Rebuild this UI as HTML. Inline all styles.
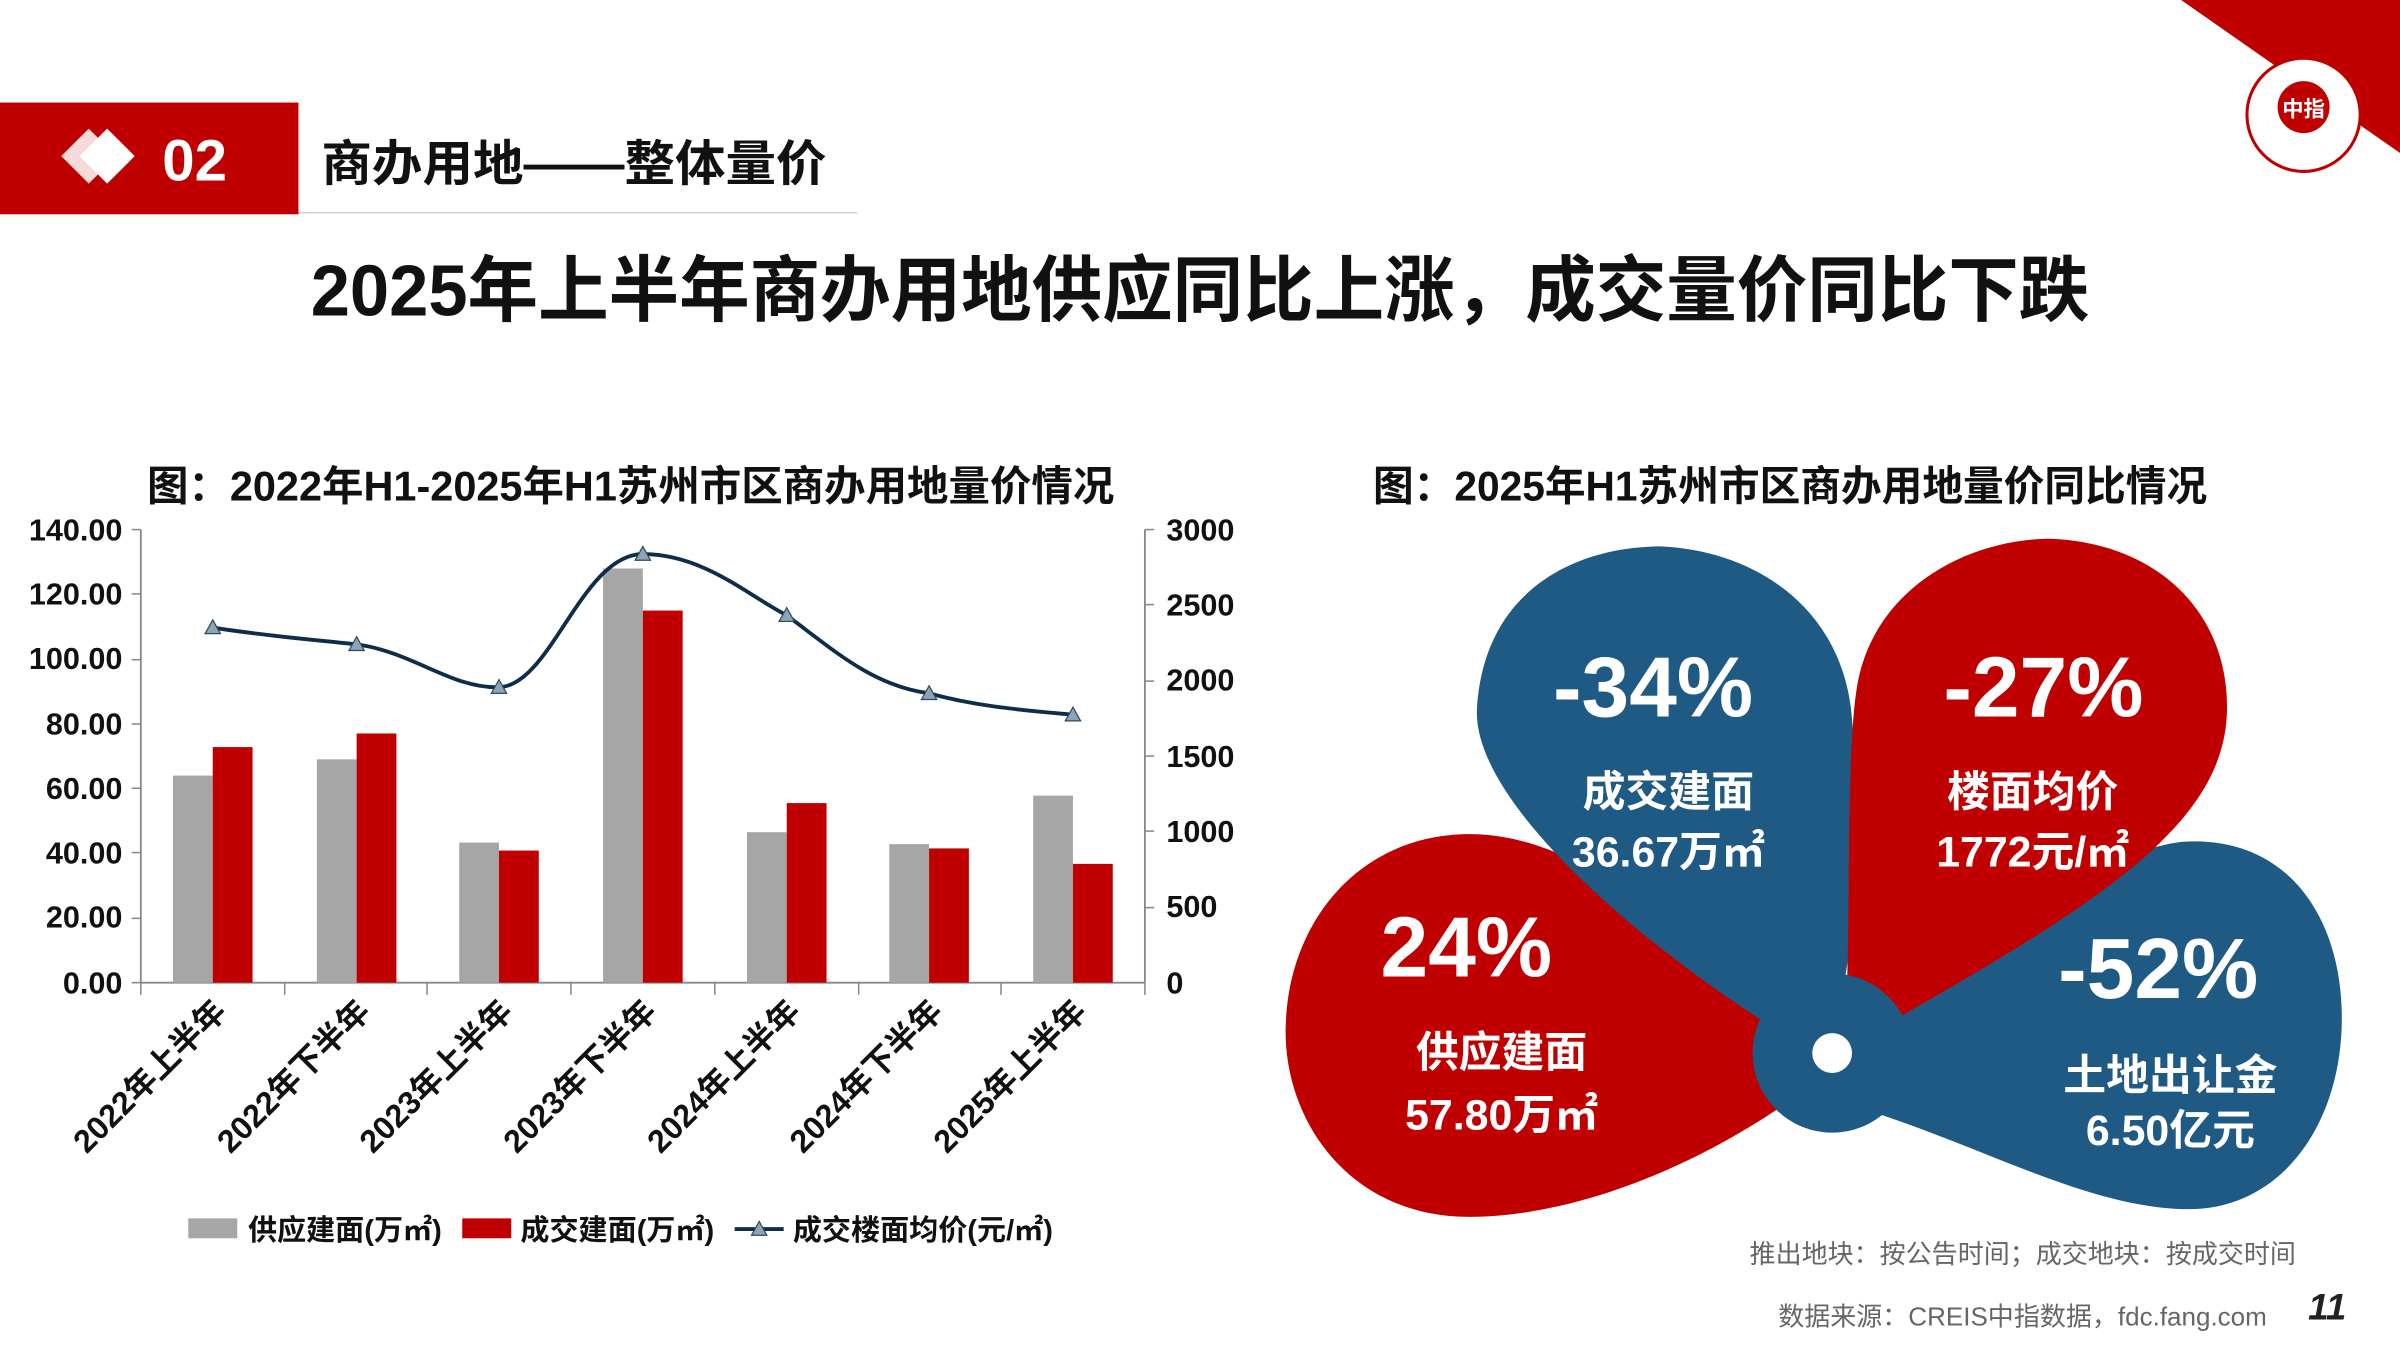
<!DOCTYPE html>
<html><head><meta charset="utf-8"><style>
html,body{margin:0;padding:0;background:#fff;}
svg{display:block;}
text{font-family:"Liberation Sans","Noto Sans CJK SC",sans-serif;}
</style></head><body>
<svg width="2400" height="1350" viewBox="0 0 1568 882" xmlns="http://www.w3.org/2000/svg">
<rect width="1568" height="882" fill="#fff"/>
<rect x="0" y="67" width="195" height="73" fill="#c00000"/>
<line x1="195" y1="139" x2="560" y2="139" stroke="#d0d0d0" stroke-width="1"/>
<polygon points="70,84 88,102 70,120 52,102" fill="#fff"/>
<polygon points="58,84 76,102 58,120 40,102" fill="#fff" opacity="0.85"/>
<text x="106" y="118" font-size="38" font-weight="bold" fill="#fff">02</text>
<text x="210" y="118" font-size="32" font-weight="bold" fill="#111" textLength="330" lengthAdjust="spacingAndGlyphs">商办用地——整体量价</text>
<polygon points="1425,0 1568,0 1568,100" fill="#c00000"/>
<circle cx="1505" cy="75" r="37" fill="#fff" stroke="#c00000" stroke-width="2"/>
<circle cx="1505" cy="70" r="17" fill="#c00000"/>
<text x="1505" y="76" font-size="14" font-weight="bold" fill="#fff" text-anchor="middle">中指</text>
<text x="203" y="206" font-size="47" font-weight="bold" fill="#111" textLength="1162" lengthAdjust="spacingAndGlyphs">2025年上半年商办用地供应同比上涨，成交量价同比下跌</text>

<text x="96" y="327" font-size="27" font-weight="bold" fill="#111" textLength="632" lengthAdjust="spacingAndGlyphs">图：2022年H1-2025年H1苏州市区商办用地量价情况</text>
<g stroke="#888" stroke-width="1.2">
<line x1="92" y1="346" x2="92" y2="642"/>
<line x1="748" y1="346" x2="748" y2="642"/>
<line x1="92" y1="642" x2="748" y2="642"/>
</g>
<g font-size="20" font-weight="bold" fill="#111" text-anchor="end">
<text x="80" y="353">140.00</text><text x="80" y="395">120.00</text><text x="80" y="437">100.00</text>
<text x="80" y="480">80.00</text><text x="80" y="522">60.00</text><text x="80" y="564">40.00</text>
<text x="80" y="606">20.00</text><text x="80" y="649">0.00</text>
</g>
<g font-size="20" font-weight="bold" fill="#111">
<text x="762" y="353">3000</text><text x="762" y="402">2500</text><text x="762" y="451">2000</text>
<text x="762" y="501">1500</text><text x="762" y="550">1000</text><text x="762" y="599">500</text><text x="762" y="649">0</text>
</g>
<g stroke="#888" stroke-width="1">
<line x1="86" y1="346" x2="92" y2="346"/><line x1="86" y1="388" x2="92" y2="388"/><line x1="86" y1="431" x2="92" y2="431"/><line x1="86" y1="473" x2="92" y2="473"/><line x1="86" y1="515" x2="92" y2="515"/><line x1="86" y1="557" x2="92" y2="557"/><line x1="86" y1="600" x2="92" y2="600"/><line x1="86" y1="642" x2="92" y2="642"/>
<line x1="748" y1="346" x2="754" y2="346"/><line x1="748" y1="395" x2="754" y2="395"/><line x1="748" y1="445" x2="754" y2="445"/><line x1="748" y1="494" x2="754" y2="494"/><line x1="748" y1="543" x2="754" y2="543"/><line x1="748" y1="593" x2="754" y2="593"/>
<line x1="92" y1="642" x2="92" y2="650"/><line x1="186" y1="642" x2="186" y2="650"/><line x1="279" y1="642" x2="279" y2="650"/><line x1="373" y1="642" x2="373" y2="650"/><line x1="467" y1="642" x2="467" y2="650"/><line x1="561" y1="642" x2="561" y2="650"/><line x1="654" y1="642" x2="654" y2="650"/><line x1="748" y1="650" x2="748" y2="642"/>
</g>
<g fill="#a6a6a6">
<rect x="113" y="506.7" width="26" height="135.3"/>
<rect x="207" y="496.1" width="26" height="145.9"/>
<rect x="300" y="550.5" width="26" height="91.5"/>
<rect x="394" y="371.4" width="26" height="270.6"/>
<rect x="488" y="543.7" width="26" height="98.3"/>
<rect x="581" y="551.5" width="26" height="90.5"/>
<rect x="675" y="519.8" width="26" height="122.2"/>
</g>
<g fill="#c00000">
<rect x="139" y="488.1" width="26" height="153.9"/>
<rect x="233" y="479.2" width="26" height="162.8"/>
<rect x="326" y="555.7" width="26" height="86.3"/>
<rect x="420" y="398.9" width="26" height="243.1"/>
<rect x="514" y="524.7" width="26" height="117.3"/>
<rect x="607" y="554.3" width="26" height="87.7"/>
<rect x="701" y="564.4" width="26" height="77.6"/>
</g>
<path d="M139,410 C170,415 205,418 233,421 C270,426 295,450 326,449 C360,448 380,362 420,362 C460,362 490,390 514,402 C545,425 570,448 607,453 C640,462 670,464 701,467" fill="none" stroke="#0d2d4a" stroke-width="2.5"/>
<g fill="#8ea3b3" stroke="#2b4a63" stroke-width="0.8">
<polygon points="139,405 144,414 134,414"/><polygon points="233,416 238,425 228,425"/><polygon points="326,444 331,453 321,453"/><polygon points="420,357 425,366 415,366"/><polygon points="514,397 519,406 509,406"/><polygon points="607,448 612,457 602,457"/><polygon points="701,462 706,471 696,471"/>
</g>
<g font-size="21" font-weight="bold" fill="#111" text-anchor="end">
<text transform="translate(149,662) rotate(-45)">2022年上半年</text>
<text transform="translate(243,662) rotate(-45)">2022年下半年</text>
<text transform="translate(336,662) rotate(-45)">2023年上半年</text>
<text transform="translate(430,662) rotate(-45)">2023年下半年</text>
<text transform="translate(524,662) rotate(-45)">2024年上半年</text>
<text transform="translate(617,662) rotate(-45)">2024年下半年</text>
<text transform="translate(711,662) rotate(-45)">2025年上半年</text>
</g>
<rect x="123" y="796" width="32" height="13" fill="#a6a6a6"/>
<rect x="302" y="796" width="32" height="13" fill="#c00000"/>
<line x1="480" y1="803" x2="512" y2="803" stroke="#0d2d4a" stroke-width="2.5"/>
<polygon points="496,798 501,807 491,807" fill="#8ea3b3" stroke="#2b4a63" stroke-width="0.8"/>
<g font-size="19" font-weight="bold" fill="#111">
<text x="162" y="810">供应建面(万㎡)</text>
<text x="340" y="810">成交建面(万㎡)</text>
<text x="518" y="810">成交楼面均价(元/㎡)</text>
</g>

<text x="897" y="327" font-size="27" font-weight="bold" fill="#111" textLength="545" lengthAdjust="spacingAndGlyphs">图：2025年H1苏州市区商办用地量价同比情况</text>
<path d="M1195,700 C1120,760 1030,795 960,795 C880,795 838,730 840,670 C842,600 890,545 960,545 C1040,545 1110,620 1195,690 Z" fill="#c00000"/>
<path d="M1190,690 C1100,640 960,530 965,462 C970,385 1030,357 1085,357 C1150,360 1205,400 1210,470 C1215,540 1215,640 1190,690 Z" fill="#1f5a85"/>
<path d="M1190,680 C1280,640 1350,560 1425,550 C1495,545 1530,600 1530,665 C1530,735 1490,790 1430,790 C1360,790 1280,740 1200,720 Z" fill="#1f5a85"/>
<path d="M1205,690 C1210,600 1205,480 1215,440 C1230,380 1290,352 1340,352 C1410,355 1455,400 1455,462 C1455,535 1380,585 1240,665 Z" fill="#c00000"/>
<circle cx="1197" cy="688" r="52" fill="#1f5a85"/>
<circle cx="1197" cy="688" r="13" fill="#fff"/>
<g font-weight="bold" fill="#fff" text-anchor="middle">
<text x="1080" y="468" font-size="56">-34%</text>
<text x="1090" y="527" font-size="28">成交建面</text>
<text x="1090" y="566" font-size="28">36.67万㎡</text>
<text x="1335" y="468" font-size="56">-27%</text>
<text x="1328" y="527" font-size="28">楼面均价</text>
<text x="1328" y="566" font-size="28">1772元/㎡</text>
<text x="958" y="638" font-size="56">24%</text>
<text x="981" y="697" font-size="28">供应建面</text>
<text x="981" y="738" font-size="28">57.80万㎡</text>
<text x="1410" y="652" font-size="56">-52%</text>
<text x="1418" y="712" font-size="28">土地出让金</text>
<text x="1418" y="748" font-size="28">6.50亿元</text>
</g>
<g font-size="17" fill="#666" text-anchor="end">
<text x="1500" y="825">推出地块：按公告时间；成交地块：按成交时间</text>
<text x="1481" y="866">数据来源：CREIS中指数据，fdc.fang.com</text>
</g>
<text x="1508" y="862" font-size="24" font-weight="bold" font-style="italic" fill="#222">11</text>
</svg>
</body></html>
